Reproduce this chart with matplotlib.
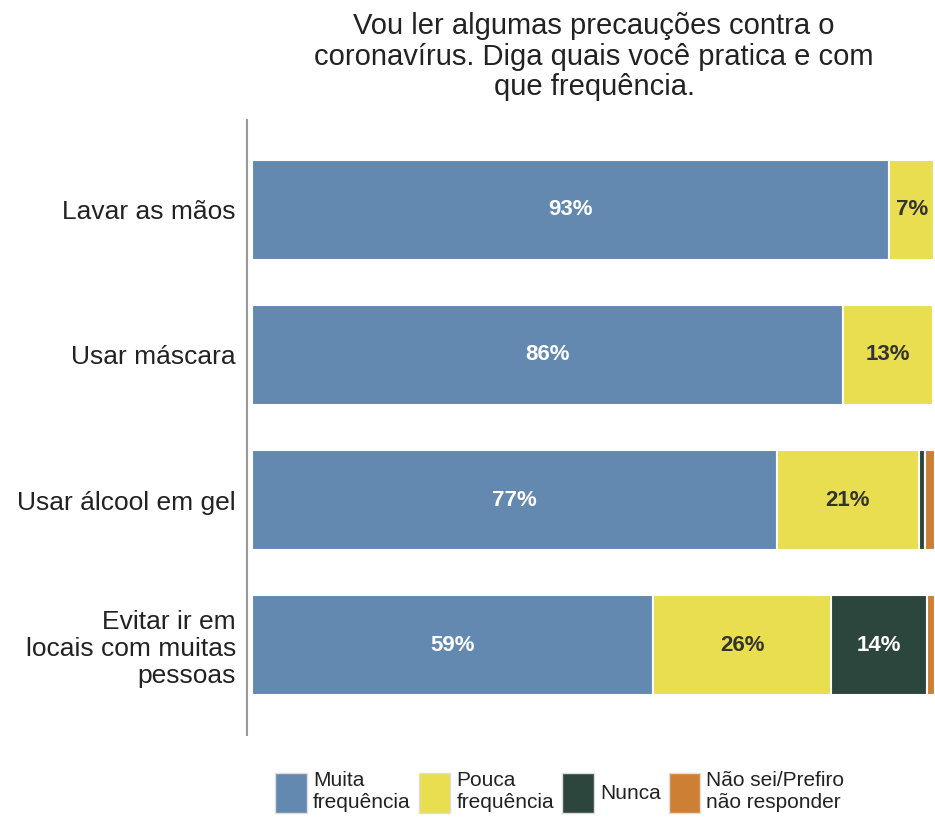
import matplotlib.pyplot as plt
import numpy as np
from matplotlib.patches import Patch

plt.rcParams["font.family"] = ["Liberation Sans", "DejaVu Sans"]

CATEGORIES = [
    "Lavar as mãos",
    "Usar máscara",
    "Usar álcool em gel",
    "Evitar ir em\nlocais com muitas\npessoas",
]
SERIES = ["Muita\nfrequência", "Pouca\nfrequência", "Nunca", "Não sei/Prefiro\nnão responder"]
MUITA = [93.3, 86.5, 76.8, 58.7]
POUCA = [6.6, 13.2, 20.9, 26.1]
NUNCA = [0.0, 0.1, 0.9, 14.0]
NAO_SEI = [0.1, 0.2, 1.4, 1.2]

COLORS = ["#6389B0", "#E9DE50", "#2C463D", "#CD8034"]
TEXT_COLORS = ["white", "#333333", "white", "white"]

TITLE = "Vou ler algumas precauções contra o\ncoronavírus. Diga quais você pratica e com\nque frequência."

fig = plt.figure(figsize=(9.35, 8.18), dpi=100)
ax = fig.add_axes([247 / 935, 1 - 735 / 818, 688 / 935, 615 / 818])

y = np.arange(len(CATEGORIES))
left = np.zeros(len(CATEGORIES))
for vals, color, tcolor in zip([MUITA, POUCA, NUNCA, NAO_SEI], COLORS, TEXT_COLORS):
    vals = np.array(vals)
    ax.barh(y, vals, left=left, height=0.69, color=color, edgecolor="white", linewidth=1.5)
    for yi, (l, v) in enumerate(zip(left, vals)):
        if v >= 5:
            ax.text(l + v / 2, yi, f"{round(v):.0f}%", ha="center", va="center",
                    color=tcolor, fontsize=16, fontweight="bold")
    left += vals

ax.set_xlim(-0.75, 100)
ax.set_ylim(3.62, -0.62)
ax.set_yticks(y)
ax.set_yticklabels(CATEGORIES, fontsize=19, color="#222222", linespacing=1.15)
ax.set_xticks([])
ax.tick_params(axis="y", length=0, pad=8)
for s in ["top", "right", "bottom"]:
    ax.spines[s].set_visible(False)
ax.spines["left"].set_color("#999999")
ax.spines["left"].set_linewidth(1.5)

fig.text(594 / 935, 1 - 12 / 818, TITLE, ha="center", va="top", fontsize=21,
         color="#222222", linespacing=1.12)

handles = [Patch(facecolor=c, edgecolor="#DDDDDD", label=l) for c, l in zip(COLORS, SERIES)]
leg = fig.legend(handles=handles, loc="lower center", bbox_to_anchor=(560 / 935, -0.017), ncol=4,
                 frameon=False, fontsize=15, handlelength=1.5, handleheight=2.6,
                 handletextpad=0.3, columnspacing=0.4, labelspacing=0.2)
for t in leg.get_texts():
    t.set_color("#222222")

fig.savefig("out.png", dpi=100)
